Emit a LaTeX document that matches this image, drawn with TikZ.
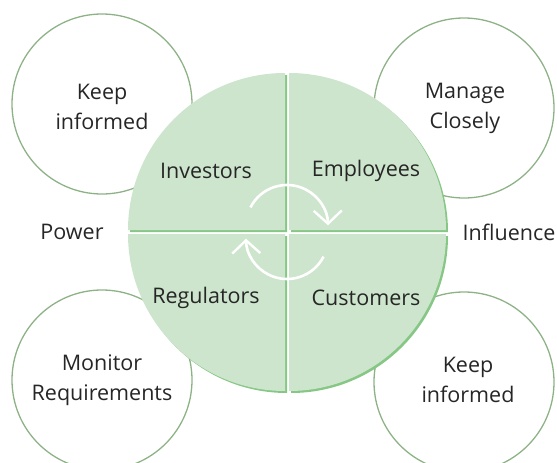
\documentclass[tikz,border=0pt]{standalone}
\usepackage{fontspec}
\setmainfont{Open Sans}
\usetikzlibrary{arrows.meta,calc}
\definecolor{qfill}{HTML}{CDE5CC}
\definecolor{qshadow}{HTML}{86C786}
\definecolor{ring}{HTML}{8DB286}
\definecolor{txt}{HTML}{262626}
\tikzset{
  outer/.style={circle, draw=ring, line width=1.3pt, minimum size=180pt, inner sep=0pt},
  lbl/.style={text=txt, font=\fontsize{21.5}{30}\selectfont, align=center, inner sep=0pt},
  cyc/.style={draw=white, line width=2.6pt, -{Straight Barb[length=13pt, width=28pt, line width=2.4pt]}}
}
\begin{document}
\begin{tikzpicture}[x=1pt, y=-1pt]
\useasboundingbox (0,0) rectangle (557,463);
% outer circles
\node[outer] (tl) at (102,104) {};
\node[outer] (tr) at (464,108) {};
\node[outer] (bl) at (102,380) {};
\node[outer] (br) at (464,382) {};
% center quadrants (angles measured with y pointing down)
\def\R{157}
\coordinate (c) at (287,232);
\foreach \sx/\sy/\a in {-1/-1/180, 1/-1/270, -1/1/90, 1/1/0}{
  \fill[qshadow] ($(c)+(\sx*2+2,\sy*2+2)$) -- ++(\a:\R) arc[start angle=\a, delta angle=90, radius=\R] -- cycle;
}
\foreach \sx/\sy/\a in {-1/-1/180, 1/-1/270, -1/1/90, 1/1/0}{
  \fill[qfill] ($(c)+(\sx*2,\sy*2)$) -- ++(\a:\R) arc[start angle=\a, delta angle=90, radius=\R] -- cycle;
}
% cycle arrows
\draw[cyc] (287,226) ++(207:41) arc[start angle=207, end angle=359, radius=41];
\draw[cyc] (287,238) ++(27:41) arc[start angle=27, end angle=179, radius=41];
% texts
\node[lbl] (tlt) at (102,107) {Keep\\informed};
\node[lbl] (trt) at (465,108) {Manage\\Closely};
\node[lbl] (blt) at (102,380) {Monitor\\Requirements};
\node[lbl] (brt) at (468,380) {Keep\\informed};
\node[lbl] (pw) at (72,232) {Power};
\node[lbl] (inf) at (509,232) {Influence};
\node[lbl] (inv) at (206,171) {Investors};
\node[lbl] (emp) at (366,171) {Employees};
\node[lbl] (reg) at (206,298) {Regulators};
\node[lbl] (cus) at (366,298) {Customers};
\end{tikzpicture}
\end{document}
